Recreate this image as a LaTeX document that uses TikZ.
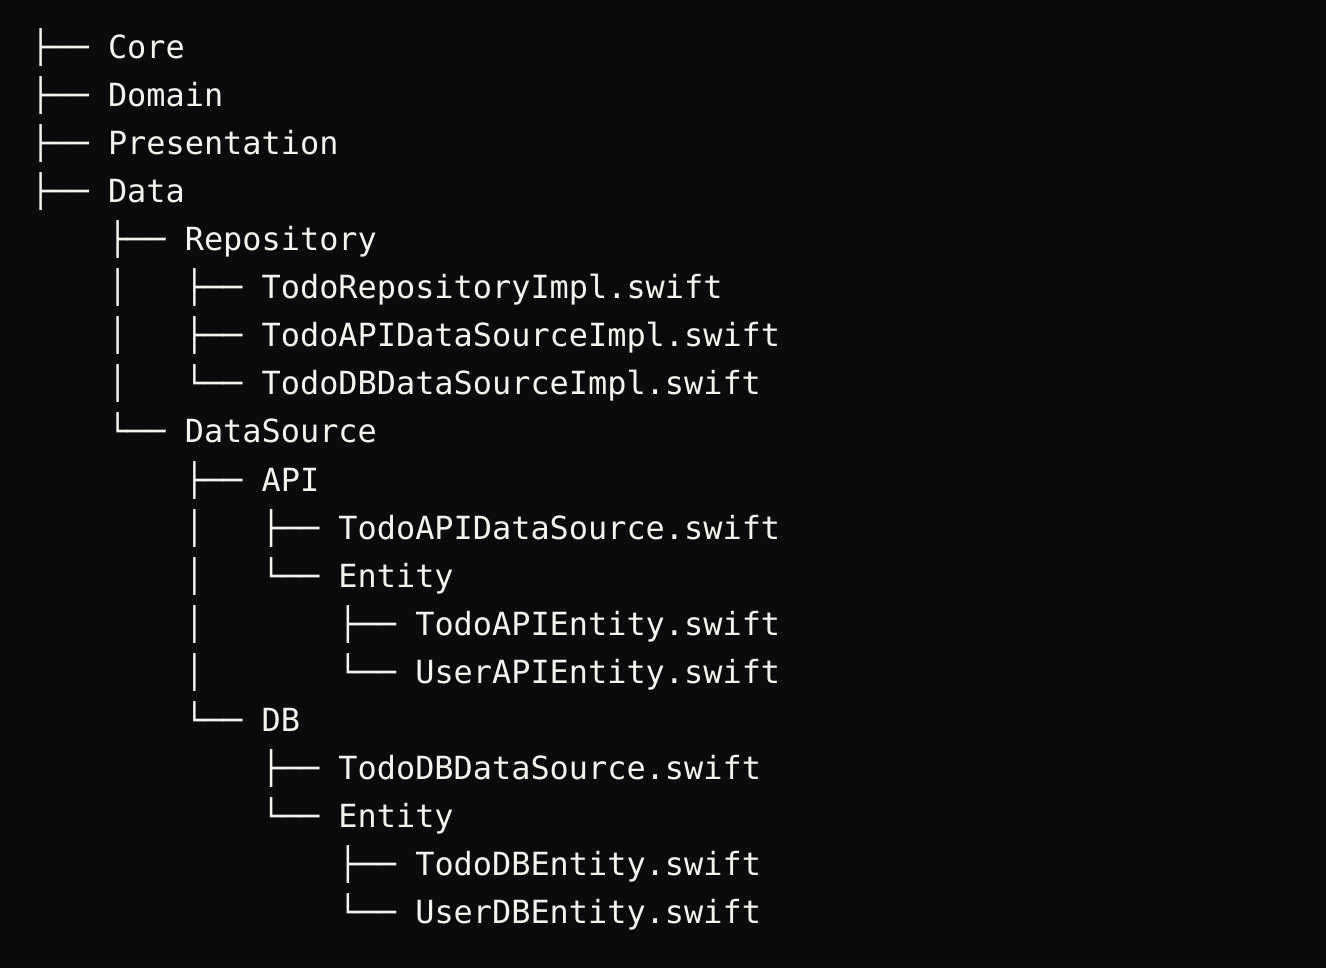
\documentclass[tikz,border=0pt]{standalone}
\usepackage{fontspec}
\setmonofont{DejaVu Sans Mono}
\definecolor{termbg}{RGB}{10,11,13}
\definecolor{termfg}{RGB}{244,244,238}

\tikzset{
  row/.style={anchor=base west, inner sep=0pt, text=termfg,
    font=\ttfamily\fontsize{31.9}{48}\selectfont}
}

\begin{document}
\begin{tikzpicture}[x=19.2pt, y=-48pt]
        % terminal background
        \fill[termbg] (-31pt,59pt) rectangle (1295pt,-909pt);
        \useasboundingbox (-31pt,59pt) rectangle (1295pt,-909pt);

        \node[row] (core) at (0,0) {├──~Core};
        \node[row] (domain) at (0,1) {├──~Domain};
        \node[row] (presentation) at (0,2) {├──~Presentation};
        \node[row] (data) at (0,3) {├──~Data};

        % Data
        \node[row] (repository) at (0,4) {~~~~├──~Repository};
        \node[row] (repoimpl) at (0,5) {~~~~│~~~├──~TodoRepositoryImpl.swift};
        \node[row] (apisrcimpl) at (0,6) {~~~~│~~~├──~TodoAPIDataSourceImpl.swift};
        \node[row] (dbsrcimpl) at (0,7) {~~~~│~~~└──~TodoDBDataSourceImpl.swift};
        \node[row] (datasource) at (0,8) {~~~~└──~DataSource};

        % DataSource / API
        \node[row] (api) at (0,9) {~~~~~~~~├──~API};
        \node[row] (apisrc) at (0,10) {~~~~~~~~│~~~├──~TodoAPIDataSource.swift};
        \node[row] (apientity) at (0,11) {~~~~~~~~│~~~└──~Entity};
        \node[row] (todoapient) at (0,12) {~~~~~~~~│~~~~~~~├──~TodoAPIEntity.swift};
        \node[row] (userapient) at (0,13) {~~~~~~~~│~~~~~~~└──~UserAPIEntity.swift};

        % DataSource / DB
        \node[row] (db) at (0,14) {~~~~~~~~└──~DB};
        \node[row] (dbsrc) at (0,15) {~~~~~~~~~~~~├──~TodoDBDataSource.swift};
        \node[row] (dbentity) at (0,16) {~~~~~~~~~~~~└──~Entity};
        \node[row] (tododbent) at (0,17) {~~~~~~~~~~~~~~~~├──~TodoDBEntity.swift};
        \node[row] (userdbent) at (0,18) {~~~~~~~~~~~~~~~~└──~UserDBEntity.swift};
    \end{tikzpicture}
\end{document}
